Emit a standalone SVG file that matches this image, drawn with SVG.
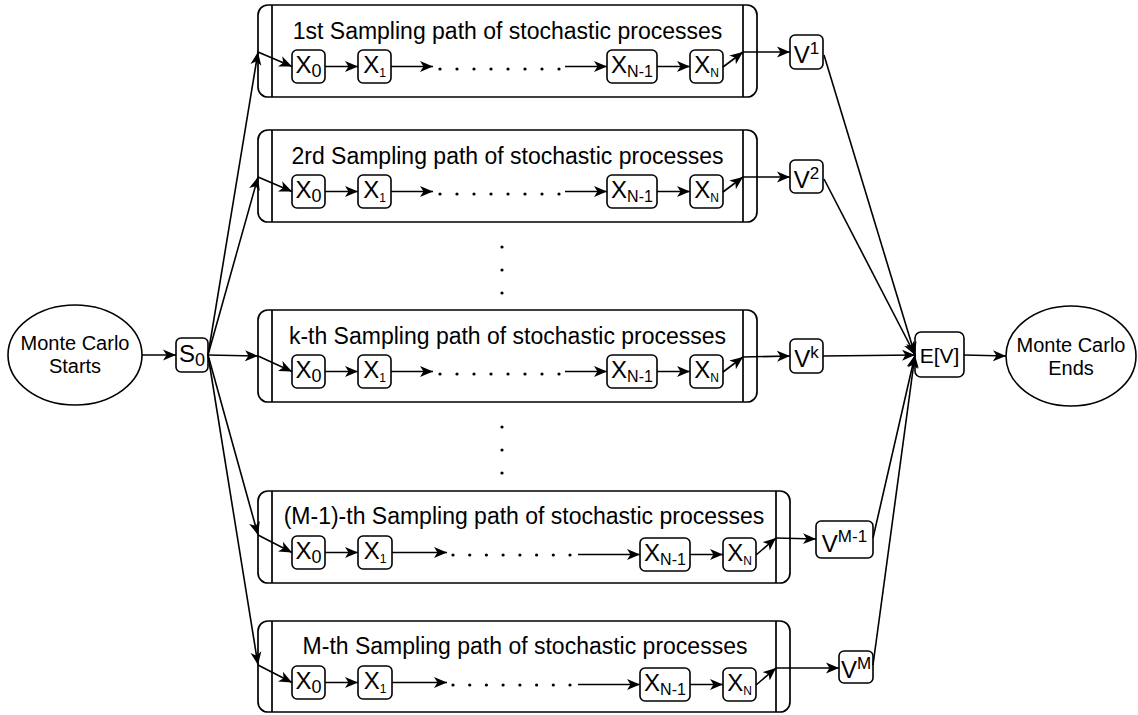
<svg xmlns="http://www.w3.org/2000/svg" width="1138" height="715" viewBox="0 0 1138 715">
<defs>
<style>
.t{font-family:"Liberation Sans",Arial,Helvetica,sans-serif;fill:#000}
.title{font-size:23px;text-anchor:middle}
.lbl{font-size:24px;text-anchor:middle}
.mc{font-size:20px;text-anchor:middle}
.box{fill:#fff;stroke:#000;stroke-width:1.6}
.big{fill:#fff;stroke:#000;stroke-width:1.7}
.div{stroke:#000;stroke-width:1.7;fill:none}
.e{stroke:#000;stroke-width:1.6;fill:none;marker-end:url(#arr)}
.dot{fill:#000}
</style>
<marker id="arr" markerWidth="14" markerHeight="12" refX="13" refY="6" orient="auto" markerUnits="userSpaceOnUse">
<path d="M0,0.5 L13,6 L0,11.5 L3.5,6 Z" fill="#000"/>
</marker>
</defs>
<rect width="1138" height="715" fill="#fff"/>

<g id="mc-start">
<ellipse class="box" cx="75" cy="355" rx="67" ry="50"/>
<text class="t mc" x="75" y="350">Monte Carlo</text>
<text class="t mc" x="75" y="373">Starts</text>
</g>
<g id="s0">
<rect class="box" x="176" y="338" width="32" height="34" rx="5"/>
<text class="t lbl" x="192" y="362">S<tspan font-size="18" dy="4">0</tspan></text>
</g>

<g id="path1" transform="translate(0,5)">
<rect class="big" x="258" y="0" width="499" height="92" rx="10"/>
<line class="div" x1="272" y1="0" x2="272" y2="92"/><line class="div" x1="743" y1="0" x2="743" y2="92"/>
<text class="t title" x="507.5" y="34">1st Sampling path of stochastic processes</text>
<rect class="box" x="292" y="45" width="33" height="33" rx="5"/><text class="t lbl" x="308.5" y="68">X<tspan font-size="18" dy="4">0</tspan></text>
<rect class="box" x="358" y="45" width="33" height="33" rx="5"/><text class="t lbl" x="374.5" y="68">X<tspan font-size="12" dy="4">1</tspan></text>
<rect class="box" x="607" y="45" width="50" height="33" rx="5"/><text class="t lbl" x="632" y="68">X<tspan font-size="16" dy="4">N-1</tspan></text>
<rect class="box" x="690" y="45" width="33" height="33" rx="5"/><text class="t lbl" x="706.5" y="68">X<tspan font-size="12" dy="4">N</tspan></text>
<path class="e" d="M258,47 L292,61.5"/><path class="e" d="M325,61.5 L358,61.5"/><path class="e" d="M391,61.5 L433,61.5"/>
<g class="dot"><circle cx="440" cy="64" r="1.6"/><circle cx="457" cy="64" r="1.6"/><circle cx="474" cy="64" r="1.6"/><circle cx="491" cy="64" r="1.6"/><circle cx="508" cy="64" r="1.6"/><circle cx="525" cy="64" r="1.6"/><circle cx="542" cy="64" r="1.6"/><circle cx="559" cy="64" r="1.6"/></g>
<path class="e" d="M565,61.5 L607,61.5"/><path class="e" d="M657,61.5 L690,61.5"/><path class="e" d="M723,62 L743,47"/>
</g>

<g id="path2" transform="translate(0,130)">
<rect class="big" x="258" y="0" width="499" height="92" rx="10"/>
<line class="div" x1="272" y1="0" x2="272" y2="92"/><line class="div" x1="743" y1="0" x2="743" y2="92"/>
<text class="t title" x="507.5" y="34">2rd Sampling path of stochastic processes</text>
<rect class="box" x="292" y="45" width="33" height="33" rx="5"/><text class="t lbl" x="308.5" y="68">X<tspan font-size="18" dy="4">0</tspan></text>
<rect class="box" x="358" y="45" width="33" height="33" rx="5"/><text class="t lbl" x="374.5" y="68">X<tspan font-size="12" dy="4">1</tspan></text>
<rect class="box" x="607" y="45" width="50" height="33" rx="5"/><text class="t lbl" x="632" y="68">X<tspan font-size="16" dy="4">N-1</tspan></text>
<rect class="box" x="690" y="45" width="33" height="33" rx="5"/><text class="t lbl" x="706.5" y="68">X<tspan font-size="12" dy="4">N</tspan></text>
<path class="e" d="M258,47 L292,61.5"/><path class="e" d="M325,61.5 L358,61.5"/><path class="e" d="M391,61.5 L433,61.5"/>
<g class="dot"><circle cx="440" cy="64" r="1.6"/><circle cx="457" cy="64" r="1.6"/><circle cx="474" cy="64" r="1.6"/><circle cx="491" cy="64" r="1.6"/><circle cx="508" cy="64" r="1.6"/><circle cx="525" cy="64" r="1.6"/><circle cx="542" cy="64" r="1.6"/><circle cx="559" cy="64" r="1.6"/></g>
<path class="e" d="M565,61.5 L607,61.5"/><path class="e" d="M657,61.5 L690,61.5"/><path class="e" d="M723,62 L743,47"/>
</g>

<g id="pathk" transform="translate(0,310)">
<rect class="big" x="258" y="0" width="499" height="92" rx="10"/>
<line class="div" x1="272" y1="0" x2="272" y2="92"/><line class="div" x1="743" y1="0" x2="743" y2="92"/>
<text class="t title" x="507.5" y="34">k-th Sampling path of stochastic processes</text>
<rect class="box" x="292" y="45" width="33" height="33" rx="5"/><text class="t lbl" x="308.5" y="68">X<tspan font-size="18" dy="4">0</tspan></text>
<rect class="box" x="358" y="45" width="33" height="33" rx="5"/><text class="t lbl" x="374.5" y="68">X<tspan font-size="12" dy="4">1</tspan></text>
<rect class="box" x="607" y="45" width="50" height="33" rx="5"/><text class="t lbl" x="632" y="68">X<tspan font-size="16" dy="4">N-1</tspan></text>
<rect class="box" x="690" y="45" width="33" height="33" rx="5"/><text class="t lbl" x="706.5" y="68">X<tspan font-size="12" dy="4">N</tspan></text>
<path class="e" d="M258,46 L292,61.5"/><path class="e" d="M325,61.5 L358,61.5"/><path class="e" d="M391,61.5 L433,61.5"/>
<g class="dot"><circle cx="440" cy="64" r="1.6"/><circle cx="457" cy="64" r="1.6"/><circle cx="474" cy="64" r="1.6"/><circle cx="491" cy="64" r="1.6"/><circle cx="508" cy="64" r="1.6"/><circle cx="525" cy="64" r="1.6"/><circle cx="542" cy="64" r="1.6"/><circle cx="559" cy="64" r="1.6"/></g>
<path class="e" d="M565,61.5 L607,61.5"/><path class="e" d="M657,61.5 L690,61.5"/><path class="e" d="M723,62 L743,47"/>
</g>

<g id="pathM1" transform="translate(0,491)">
<rect class="big" x="258" y="0" width="532" height="92" rx="10"/>
<line class="div" x1="272" y1="0" x2="272" y2="92"/><line class="div" x1="776" y1="0" x2="776" y2="92"/>
<text class="t title" x="524" y="33">(M-1)-th Sampling path of stochastic processes</text>
<rect class="box" x="292" y="45" width="33" height="33" rx="5"/><text class="t lbl" x="308.5" y="68">X<tspan font-size="18" dy="4">0</tspan></text>
<rect class="box" x="358" y="45" width="34" height="33" rx="5"/><text class="t lbl" x="375" y="68">X<tspan font-size="12" dy="4">1</tspan></text>
<rect class="box" x="640" y="47" width="50" height="33" rx="5"/><text class="t lbl" x="665" y="70">X<tspan font-size="16" dy="4">N-1</tspan></text>
<rect class="box" x="723" y="47" width="33" height="33" rx="5"/><text class="t lbl" x="739.5" y="70">X<tspan font-size="12" dy="4">N</tspan></text>
<path class="e" d="M258,44 L292,61.5"/><path class="e" d="M325,61.5 L358,61.5"/><path class="e" d="M392,61.5 L447,61.5"/>
<g class="dot"><circle cx="453" cy="64" r="1.6"/><circle cx="469.7" cy="64" r="1.6"/><circle cx="486.4" cy="64" r="1.6"/><circle cx="503.1" cy="64" r="1.6"/><circle cx="519.9" cy="64" r="1.6"/><circle cx="536.6" cy="64" r="1.6"/><circle cx="553.3" cy="64" r="1.6"/><circle cx="570" cy="64" r="1.6"/></g>
<path class="e" d="M578,63.5 L640,63.5"/><path class="e" d="M690,63.5 L723,63.5"/><path class="e" d="M756,64 L776,47"/>
</g>

<g id="pathM" transform="translate(0,621)">
<rect class="big" x="258" y="0" width="532" height="91" rx="10"/>
<line class="div" x1="272" y1="0" x2="272" y2="91"/><line class="div" x1="776" y1="0" x2="776" y2="91"/>
<text class="t title" x="525" y="33">M-th Sampling path of stochastic processes</text>
<rect class="box" x="292" y="45" width="33" height="33" rx="5"/><text class="t lbl" x="308.5" y="68">X<tspan font-size="18" dy="4">0</tspan></text>
<rect class="box" x="358" y="45" width="34" height="33" rx="5"/><text class="t lbl" x="375" y="68">X<tspan font-size="12" dy="4">1</tspan></text>
<rect class="box" x="640" y="47" width="50" height="33" rx="5"/><text class="t lbl" x="665" y="70">X<tspan font-size="16" dy="4">N-1</tspan></text>
<rect class="box" x="723" y="47" width="33" height="33" rx="5"/><text class="t lbl" x="739.5" y="70">X<tspan font-size="12" dy="4">N</tspan></text>
<path class="e" d="M258,44 L292,61.5"/><path class="e" d="M325,61.5 L358,61.5"/><path class="e" d="M392,61.5 L447,61.5"/>
<g class="dot"><circle cx="453" cy="64" r="1.6"/><circle cx="469.7" cy="64" r="1.6"/><circle cx="486.4" cy="64" r="1.6"/><circle cx="503.1" cy="64" r="1.6"/><circle cx="519.9" cy="64" r="1.6"/><circle cx="536.6" cy="64" r="1.6"/><circle cx="553.3" cy="64" r="1.6"/><circle cx="570" cy="64" r="1.6"/></g>
<path class="e" d="M578,63.5 L640,63.5"/><path class="e" d="M690,63.5 L723,63.5"/><path class="e" d="M756,64 L776,47"/>
</g>

<g id="vdots" class="dot">
<circle cx="502" cy="247" r="1.6"/><circle cx="502" cy="270" r="1.6"/><circle cx="502" cy="293" r="1.6"/>
<circle cx="502" cy="427" r="1.6"/><circle cx="502" cy="450" r="1.6"/><circle cx="502" cy="473" r="1.6"/>
</g>

<g id="v1"><rect class="box" x="790" y="35" width="33" height="34" rx="5"/><text class="t lbl" x="806.5" y="63">V<tspan font-size="17" dy="-9">1</tspan></text></g>
<g id="v2"><rect class="box" x="790" y="160" width="33" height="33" rx="5"/><text class="t lbl" x="806.5" y="188">V<tspan font-size="17" dy="-9">2</tspan></text></g>
<g id="vk"><rect class="box" x="790" y="339" width="33" height="34" rx="5"/><text class="t lbl" x="806.5" y="367">V<tspan font-size="17" dy="-9">k</tspan></text></g>
<g id="vM1"><rect class="box" x="816" y="521" width="57" height="37" rx="5"/><text class="t lbl" x="844.5" y="552">V<tspan font-size="17" dy="-10">M-1</tspan></text></g>
<g id="vM"><rect class="box" x="839" y="651" width="34" height="32" rx="5"/><text class="t lbl" x="856" y="678">V<tspan font-size="17" dy="-9">M</tspan></text></g>

<g id="ev"><rect class="box" x="915" y="332" width="49" height="45" rx="6"/><text class="t" x="939.5" y="363" font-size="21" text-anchor="middle">E[V]</text></g>

<g id="mc-end">
<ellipse class="box" cx="1071" cy="356" rx="65" ry="50"/>
<text class="t mc" x="1071" y="352">Monte Carlo</text>
<text class="t mc" x="1071" y="375">Ends</text>
</g>

<g id="connectors">
<path class="e" d="M142,355 L176,355"/>
<path class="e" d="M208,355 L258,52"/>
<path class="e" d="M208,355 L258,177"/>
<path class="e" d="M208,355 L258,356"/>
<path class="e" d="M208,355 L258,535"/>
<path class="e" d="M208,355 L258,665"/>
<path class="e" d="M743,52 L790,52"/>
<path class="e" d="M743,177 L790,177"/>
<path class="e" d="M743,357 L790,356"/>
<path class="e" d="M776,538 L816,539"/>
<path class="e" d="M776,668 L839,668"/>
<path class="e" d="M824,55 L915,355"/>
<path class="e" d="M824,179 L915,355"/>
<path class="e" d="M823,356 L915,355"/>
<path class="e" d="M873,538 L915,355"/>
<path class="e" d="M873,665 L915,355"/>
<path class="e" d="M964,355 L1006,356"/>
</g>
</svg>
